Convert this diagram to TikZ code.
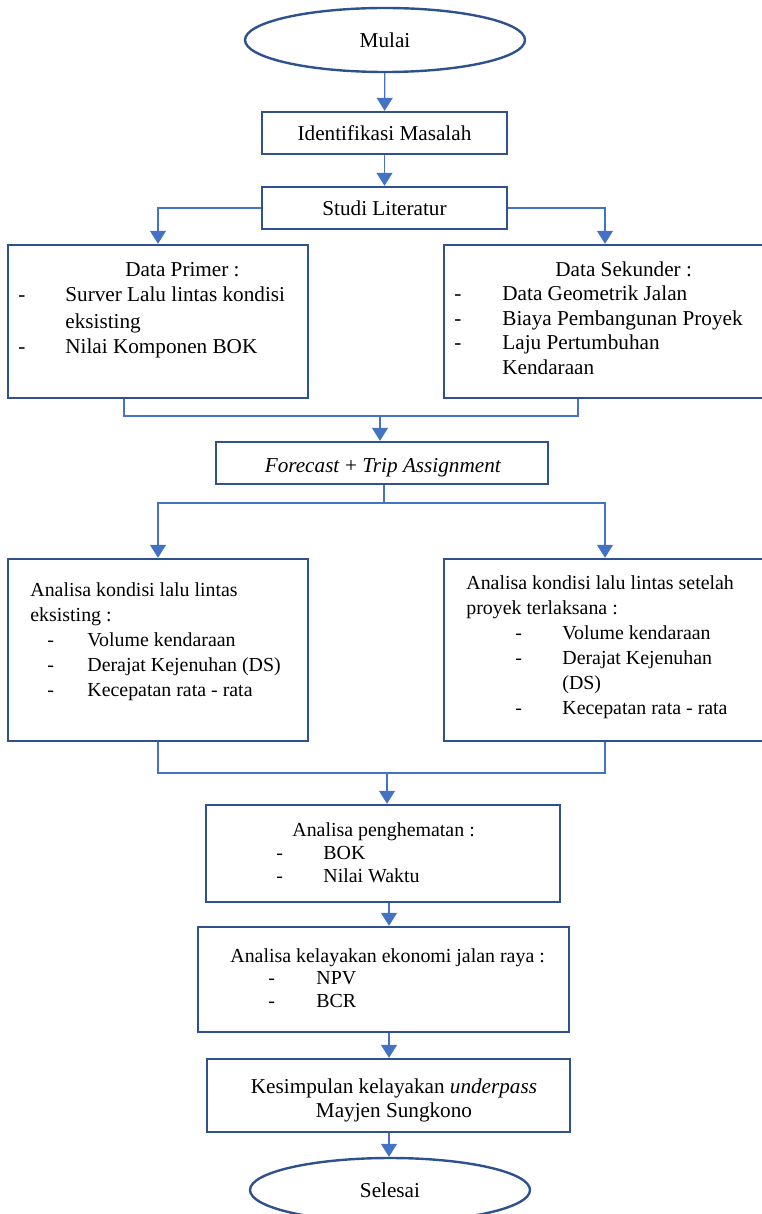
\documentclass[tikz,border=0pt]{standalone}
\usepackage{fontspec}
\setmainfont{Liberation Serif}
\usetikzlibrary{arrows.meta,shapes.geometric}
\definecolor{bord}{HTML}{2F528F}
\definecolor{conn}{HTML}{4472C4}
\newcommand{\dsh}[1]{\makebox[#1][l]{-}}
\tikzset{
  box/.style={draw=bord,line width=1.2pt,rectangle,inner sep=0pt},
  oval/.style={draw=bord,line width=1.2pt,ellipse,inner sep=0pt,minimum width=140pt,minimum height=32pt},
  link/.style={draw=conn,line width=0.6pt},
  arr/.style={link,-{Triangle[width=8pt,length=6.5pt]}},
  txt/.style={inner sep=0pt,anchor=base west,font=\fontsize{10.6pt}{12.5pt}\selectfont},
  stxt/.style={txt,font=\fontsize{9.95pt}{12.5pt}\selectfont}
}
\begin{document}
\begin{tikzpicture}[x=0.5pt,y=-0.5pt]
\useasboundingbox (0,0) rectangle (761,1214);
% shapes
\node[oval,font=\fontsize{10.6pt}{12.5pt}\selectfont] (mulai) at (385,40) {Mulai};
\node[box,minimum width=122.5pt,minimum height=21pt,font=\fontsize{10.6pt}{12.5pt}\selectfont] (ident) at (384.5,133) {Identifikasi Masalah};
\node[box,minimum width=122.5pt,minimum height=21pt,font=\fontsize{10.6pt}{12.5pt}\selectfont] (studi) at (384.5,208) {Studi Literatur};
\node[box,minimum width=150pt,minimum height=76.5pt] (primer) at (158,321.5) {};
\node[box,minimum width=161pt,minimum height=76.5pt] (sekunder) at (605,321.5) {};
\node[box,minimum width=166pt,minimum height=21pt] (forecast) at (382,463) {};
\node[box,minimum width=150pt,minimum height=91pt] (anL) at (158,650) {};
\node[box,minimum width=161pt,minimum height=91pt] (anR) at (605,650) {};
\node[box,minimum width=177pt,minimum height=48.5pt] (hemat) at (383,853.5) {};
\node[box,minimum width=185.5pt,minimum height=52.5pt] (layak) at (383.5,979.5) {};
\node[box,minimum width=181.5pt,minimum height=36.5pt] (simpul) at (388.5,1095.5) {};
\node[oval,font=\fontsize{10.6pt}{12.5pt}\selectfont] (selesai) at (390,1190) {Selesai};
% texts
\node[txt] (tprimer) at (18,276) {\parbox[t]{150pt}{\baselineskip=13pt\raggedright
\hspace*{53.5pt}Data Primer :\\
\dsh{23.5pt}Surver Lalu lintas kondisi\\
\hspace*{23.5pt}eksisting\\
\dsh{23.5pt}Nilai Komponen BOK}};
\node[txt] (tsekunder) at (454,276) {\parbox[t]{160pt}{\baselineskip=12.3pt\raggedright
\hspace*{50.5pt}Data Sekunder :\\
\dsh{24pt}Data Geometrik Jalan\\
\dsh{24pt}Biaya Pembangunan Proyek\\
\dsh{24pt}Laju Pertumbuhan\\
\hspace*{24pt}Kendaraan}};
\node[txt,anchor=base] (tforecast) at (383,472) {\textit{Forecast} + \textit{Trip Assignment}};
\node[stxt] (tanL) at (30,596) {\parbox[t]{150pt}{\baselineskip=12.5pt\raggedright
Analisa kondisi lalu lintas\\
eksisting :\\
\hspace*{8.5pt}\dsh{20pt}Volume kendaraan\\
\hspace*{8.5pt}\dsh{20pt}Derajat Kejenuhan (DS)\\
\hspace*{8.5pt}\dsh{20pt}Kecepatan rata - rata}};
\node[stxt] (tanR) at (466,589) {\parbox[t]{160pt}{\baselineskip=12.5pt\raggedright
Analisa kondisi lalu lintas setelah\\
proyek terlaksana :\\
\hspace*{24.5pt}\dsh{23.5pt}Volume kendaraan\\
\hspace*{24.5pt}\dsh{23.5pt}Derajat Kejenuhan\\
\hspace*{48pt}(DS)\\
\hspace*{24.5pt}\dsh{23.5pt}Kecepatan rata - rata}};
\node[stxt] (themat) at (276,836) {\parbox[t]{170pt}{\baselineskip=11.5pt\raggedright
\hspace*{8pt}Analisa penghematan :\\
\dsh{23.5pt}BOK\\
\dsh{23.5pt}Nilai Waktu}};
\node[stxt] (tlayak) at (230,962) {\parbox[t]{180pt}{\baselineskip=11.25pt\raggedright
Analisa kelayakan ekonomi jalan raya :\\
\hspace*{19pt}\dsh{24pt}NPV\\
\hspace*{19pt}\dsh{24pt}BCR}};
\node[txt,anchor=base] (tsimpul) at (394,1093) {\parbox[t]{180pt}{\baselineskip=12pt\centering
Kesimpulan kelayakan \textit{underpass}\\
Mayjen Sungkono}};
% junction coordinates
\coordinate (jl) at (124,416);
\coordinate (jr) at (578,416);
\coordinate (jm) at (380,416);
\coordinate (f2) at (384,503);
\coordinate (m2) at (387,773);
\coordinate (ax) at (389,0);
% connectors
\draw[arr] (mulai) -- (ident);
\draw[arr] (ident) -- (studi);
\draw[arr] (studi.west) -| (primer.north);
\draw[arr] (studi.east) -| (sekunder.north);
\draw[link] (primer.south -| jl) -- (jl) -- (jr) -- (sekunder.south -| jr);
\draw[arr] (jm) -- (forecast.north -| jm);
\draw[link] (forecast.south -| f2) -- (f2);
\draw[arr] (f2) -| (anL.north);
\draw[arr] (f2) -| (anR.north);
\draw[link] (anL.south) |- (anR.south |- m2) -- (anR.south);
\draw[arr] (m2) -- (hemat.north -| m2);
\draw[arr] (hemat.south -| ax) -- (layak.north -| ax);
\draw[arr] (layak.south -| ax) -- (simpul.north -| ax);
\draw[arr] (simpul.south -| ax) -- (selesai.north -| ax);
\end{tikzpicture}
\end{document}
